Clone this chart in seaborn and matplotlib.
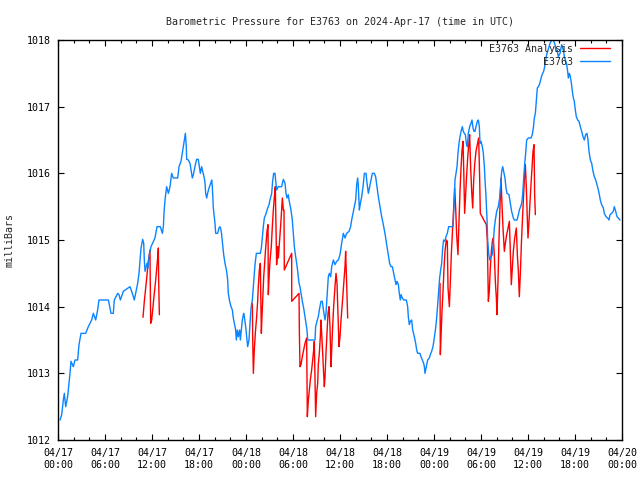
import pandas as pd
import matplotlib
matplotlib.use("Agg")
import matplotlib.pyplot as plt
import matplotlib.dates as mdates
from matplotlib.lines import Line2D
import seaborn as sns

# hours after 2024-04-17 00:00 UTC, pressure in mbar
station_hours = [
    0.26, 0.47, 0.68, 0.81, 0.98, 1.23, 1.40, 1.53, 1.66, 1.96, 2.17, 2.51, 2.68, 2.94,
    3.53, 3.87, 4.30, 4.51, 4.81, 5.06, 5.23, 6.43, 6.64, 6.77, 7.06, 7.19, 7.62, 7.79,
    7.96, 8.34, 9.19, 9.49, 9.74, 10.0, 10.17, 10.34, 10.47, 10.6, 10.81, 10.94, 11.02,
    11.11, 11.36, 11.49, 11.62, 11.87, 12.38, 12.64, 13.06, 13.32, 13.45, 13.53, 13.66,
    13.87, 14.09, 14.3, 14.51, 14.72, 15.28, 15.45, 15.7, 15.87, 16.0, 16.13, 16.26,
    16.38, 16.43, 16.64, 16.85, 16.98, 17.15, 17.28, 17.4, 17.57, 17.7, 17.91, 18.04,
    18.17, 18.34, 18.47, 18.68, 18.77, 18.85, 18.98, 19.1, 19.28, 19.49, 19.62, 19.7,
    19.83, 20.04, 20.13, 20.38, 20.55, 20.68, 20.81, 20.89, 21.02, 21.15, 21.32, 21.53,
    21.66, 21.74, 21.91, 22.09, 22.26, 22.38, 22.51, 22.68, 22.77, 22.89, 23.02, 23.19,
    23.28, 23.4, 23.53, 23.7, 23.79, 23.96, 24.09, 24.21, 24.38, 24.51, 24.64, 24.81,
    24.94, 25.06, 25.15, 25.32, 25.83, 25.96, 26.09, 26.21, 26.34, 26.51, 26.77, 26.94,
    27.06, 27.28, 27.4, 27.53, 27.7, 27.91, 28.13, 28.55, 28.77, 28.98, 29.11, 29.23,
    29.4, 29.49, 29.74, 29.91, 30.04, 30.17, 30.34, 30.47, 30.6, 30.77, 30.89, 31.02,
    31.19, 31.36, 31.53, 31.66, 31.79, 31.87, 32.81, 32.89, 33.06, 33.23, 33.36, 33.57,
    33.74, 33.91, 34.09, 34.21, 34.38, 34.51, 34.64, 34.81, 34.94, 35.15, 35.36, 35.57,
    35.79, 36.0, 36.21, 36.43, 36.64, 36.85, 37.15, 37.36, 37.49, 37.66, 37.83, 38.0,
    38.13, 38.26, 38.34, 38.47, 38.6, 38.77, 38.94, 39.11, 39.32, 39.45, 39.62, 39.79,
    39.96, 40.13, 40.38, 40.55, 40.72, 40.89, 41.11, 41.32, 41.53, 41.74, 41.96, 42.17,
    42.34, 42.51, 42.68, 42.85, 43.02, 43.15, 43.28, 43.45, 43.57, 43.7, 43.79, 43.96,
    44.13, 44.47, 44.64, 44.72, 44.85, 44.98, 45.15, 45.28, 45.49, 45.66, 45.79, 45.91,
    46.21, 46.34, 46.51, 46.68, 46.77, 46.85, 47.02, 47.19, 47.4, 47.53, 47.7, 47.87,
    48.04, 48.21, 48.34, 48.47, 48.6, 48.72, 48.85, 48.98, 49.11, 49.23, 49.4, 49.53,
    49.7, 49.87, 50.43, 50.55, 50.68, 50.81, 50.94, 51.06, 51.19, 51.32, 51.45, 51.62,
    51.74, 51.87, 52.0, 52.13, 52.26, 52.38, 52.55, 52.72, 52.85, 52.98, 53.11, 53.23,
    53.36, 53.53, 53.66, 53.79, 53.87, 54.0, 54.17, 54.3, 54.43, 54.51, 54.64, 54.77,
    54.85, 54.98, 55.11, 55.28, 55.45, 55.57, 55.7, 55.83, 56.0, 56.21, 56.38, 56.51,
    56.64, 56.77, 56.89, 57.06, 57.19, 57.32, 57.57, 57.74, 57.91, 58.13, 58.26, 58.6,
    58.77, 58.89, 59.06, 59.19, 59.32, 59.45, 59.57, 59.7, 59.83, 60.04, 60.38, 60.55,
    60.68, 60.81, 60.94, 61.06, 61.19, 61.32, 61.45, 61.57, 61.74, 61.87, 62.0, 62.13,
    62.26, 62.38, 62.51, 62.68, 62.81, 63.02, 63.23, 63.45, 63.57, 63.7, 63.87, 64.09,
    64.3, 64.51, 64.64, 64.81, 64.94, 65.06, 65.15, 65.28, 65.4, 65.53, 65.66, 65.79,
    65.91, 66.04, 66.17, 66.34, 66.51, 66.68, 66.85, 67.02, 67.19, 67.36, 67.53, 67.66,
    67.79, 67.96, 68.13, 68.3, 68.47, 68.64, 68.81, 68.98, 69.11, 69.23, 69.4, 69.62,
    69.74, 69.96, 70.17, 70.34, 70.47, 70.68, 70.89, 71.02, 71.19, 71.36, 71.53, 71.74,
]
station_mbar = [
    1012.30, 1012.38, 1012.6, 1012.7, 1012.5, 1012.65, 1012.85, 1013.0, 1013.18, 1013.1,
    1013.2, 1013.2, 1013.43, 1013.6, 1013.6, 1013.7, 1013.8, 1013.9, 1013.8, 1013.95,
    1014.1, 1014.1, 1013.98, 1013.9, 1013.9, 1014.1, 1014.2, 1014.18, 1014.1, 1014.23,
    1014.3, 1014.2, 1014.1, 1014.25, 1014.35, 1014.5, 1014.7, 1014.88, 1015.01, 1014.95,
    1014.7, 1014.53, 1014.65, 1014.58, 1014.75, 1014.9, 1015.03, 1015.2, 1015.2, 1015.1,
    1015.2, 1015.4, 1015.6, 1015.8, 1015.7, 1015.8, 1016.0, 1015.93, 1015.93, 1016.1,
    1016.18, 1016.3, 1016.4, 1016.5, 1016.6, 1016.4, 1016.21, 1016.2, 1016.15, 1016.05,
    1015.93, 1015.98, 1016.05, 1016.15, 1016.21, 1016.21, 1016.1, 1016.0, 1016.1, 1016.03,
    1015.93, 1015.85, 1015.7, 1015.63, 1015.7, 1015.78, 1015.85, 1015.9, 1015.8, 1015.48,
    1015.25, 1015.1, 1015.1, 1015.18, 1015.2, 1015.15, 1015.08, 1014.93, 1014.78, 1014.65,
    1014.53, 1014.4, 1014.2, 1014.08, 1014.0, 1013.95, 1013.83, 1013.75, 1013.65, 1013.5,
    1013.65, 1013.55, 1013.65, 1013.5, 1013.65, 1013.8, 1013.9, 1013.85, 1013.7, 1013.55,
    1013.4, 1013.5, 1013.75, 1013.98, 1014.1, 1014.3, 1014.48, 1014.63, 1014.8, 1014.8,
    1014.88, 1015.05, 1015.2, 1015.33, 1015.38, 1015.48, 1015.53, 1015.6, 1015.7, 1015.88,
    1016.0, 1016.0, 1015.75, 1015.8, 1015.8, 1015.91, 1015.85, 1015.7, 1015.63, 1015.68,
    1015.6, 1015.45, 1015.3, 1015.1, 1014.9, 1014.75, 1014.65, 1014.53, 1014.35, 1014.3,
    1014.2, 1014.08, 1013.98, 1013.85, 1013.75, 1013.65, 1013.5, 1013.5, 1013.7, 1013.78,
    1013.85, 1013.95, 1014.08, 1014.08, 1013.93, 1013.8, 1013.9, 1014.2, 1014.45, 1014.5,
    1014.45, 1014.6, 1014.7, 1014.63, 1014.68, 1014.7, 1014.78, 1014.95, 1015.1, 1015.03,
    1015.1, 1015.13, 1015.2, 1015.3, 1015.4, 1015.5, 1015.6, 1015.83, 1015.93, 1015.8,
    1015.45, 1015.55, 1015.65, 1015.8, 1016.0, 1016.0, 1015.85, 1015.7, 1015.8, 1015.9,
    1016.0, 1016.0, 1015.95, 1015.8, 1015.65, 1015.5, 1015.35, 1015.23, 1015.1, 1014.93,
    1014.78, 1014.65, 1014.6, 1014.6, 1014.5, 1014.4, 1014.33, 1014.38, 1014.33, 1014.2,
    1014.1, 1014.18, 1014.13, 1014.1, 1014.1, 1014.0, 1013.85, 1013.73, 1013.78, 1013.8,
    1013.65, 1013.55, 1013.45, 1013.35, 1013.3, 1013.3, 1013.25, 1013.2, 1013.15, 1013.1,
    1013.0, 1013.1, 1013.2, 1013.23, 1013.28, 1013.33, 1013.4, 1013.53, 1013.68, 1013.83,
    1014.03, 1014.25, 1014.43, 1014.55, 1014.65, 1014.88, 1015.0, 1014.98, 1015.05, 1015.1,
    1015.2, 1015.2, 1015.5, 1015.9, 1016.0, 1016.1, 1016.3, 1016.45, 1016.55, 1016.63,
    1016.7, 1016.63, 1016.6, 1016.58, 1016.45, 1016.4, 1016.6, 1016.7, 1016.75, 1016.8,
    1016.68, 1016.63, 1016.63, 1016.7, 1016.78, 1016.8, 1016.7, 1016.45, 1016.48, 1016.4,
    1016.3, 1016.1, 1015.9, 1015.65, 1015.3, 1015.0, 1014.8, 1014.7, 1014.75, 1014.78,
    1014.95, 1015.18, 1015.3, 1015.43, 1015.5, 1015.63, 1015.83, 1016.03, 1016.1, 1016.03,
    1015.93, 1015.78, 1015.7, 1015.68, 1015.55, 1015.43, 1015.33, 1015.3, 1015.3, 1015.38,
    1015.45, 1015.5, 1015.55, 1015.68, 1015.93, 1016.13, 1016.3, 1016.5, 1016.53, 1016.53,
    1016.58, 1016.68, 1016.83, 1016.9, 1017.08, 1017.28, 1017.3, 1017.33, 1017.38, 1017.46,
    1017.5, 1017.53, 1017.6, 1017.7, 1017.78, 1017.83, 1017.9, 1017.95, 1018.0, 1018.0,
    1017.93, 1017.83, 1017.85, 1017.75, 1017.8, 1017.93, 1017.85, 1017.75, 1017.68, 1017.63,
    1017.53, 1017.43, 1017.5, 1017.45, 1017.36, 1017.23, 1017.13, 1017.08, 1016.95, 1016.85,
    1016.8, 1016.78, 1016.7, 1016.63, 1016.55, 1016.5, 1016.58, 1016.6, 1016.5, 1016.33,
    1016.2, 1016.15, 1016.03, 1015.95, 1015.9, 1015.83, 1015.75, 1015.68, 1015.6, 1015.53,
    1015.48, 1015.4, 1015.35, 1015.33, 1015.3, 1015.38, 1015.4, 1015.43, 1015.5, 1015.43,
    1015.35, 1015.33, 1015.3,
]

# analysis runs, three separate stretches
analysis1_hours = [10.85, 11.02, 11.28, 11.53, 11.74, 11.83, 11.96, 12.21, 12.47, 12.72,
                   12.81, 12.85, 12.94]
analysis1_mbar = [1013.84, 1014.08, 1014.38, 1014.68, 1014.85, 1013.75, 1013.8, 1014.1,
                  1014.4, 1014.73, 1014.88, 1014.4, 1013.88]

analysis2_hours = [
    24.81, 24.85, 24.94, 25.06, 25.19, 25.36, 25.49, 25.57, 25.7, 25.83, 25.87, 25.96,
    26.04, 26.17, 26.26, 26.38, 26.51, 26.68, 26.81, 26.85, 26.98, 27.11, 27.23, 27.36,
    27.49, 27.62, 27.74, 27.91, 28.04, 28.13, 28.34, 28.47, 28.64, 28.77, 28.85, 28.89,
    29.83, 29.84, 30.77, 30.81, 30.89, 31.02, 31.19, 31.36, 31.53, 31.74, 31.83, 31.96,
    32.09, 32.21, 32.38, 32.51, 32.64, 32.72, 32.81, 32.89, 33.02, 33.15, 33.23, 33.36,
    33.49, 33.57, 33.66, 33.79, 33.91, 34.0, 34.09, 34.21, 34.34, 34.47, 34.6, 34.72,
    34.85, 34.94, 35.06, 35.19, 35.36, 35.49, 35.62, 35.74, 35.87, 36.0, 36.13, 36.26,
    36.38, 36.51, 36.64, 36.72, 36.85, 36.98,
]
analysis2_mbar = [
    1014.05, 1013.55, 1013.0, 1013.35, 1013.6, 1013.85, 1014.08, 1014.3, 1014.55, 1014.65,
    1014.3, 1013.6, 1013.85, 1014.2, 1014.45, 1014.65, 1014.88, 1015.13, 1015.23, 1014.18,
    1014.53, 1014.75, 1014.9, 1015.2, 1015.45, 1015.65, 1015.8, 1014.63, 1014.9, 1014.73,
    1015.08, 1015.3, 1015.63, 1015.45, 1015.45, 1014.55, 1014.8, 1014.08, 1014.2, 1013.65,
    1013.1, 1013.13, 1013.25, 1013.35, 1013.45, 1013.53, 1012.35, 1012.6, 1012.75, 1012.9,
    1013.05, 1013.2, 1013.35, 1013.48, 1012.9, 1012.35, 1012.7, 1012.85, 1013.13, 1013.3,
    1013.55, 1013.8, 1013.6, 1013.3, 1013.0, 1012.8, 1012.95, 1013.3, 1013.6, 1013.9,
    1014.0, 1013.7, 1013.1, 1013.35, 1013.7, 1014.0, 1014.3, 1014.5, 1014.35, 1013.9,
    1013.4, 1013.55, 1013.8, 1014.0, 1014.18, 1014.4, 1014.6, 1014.83, 1014.35, 1013.83,
]

analysis3_hours = [
    48.77, 48.81, 48.94, 49.02, 49.15, 49.28, 49.4, 49.57, 49.7, 49.79, 49.96, 50.09,
    50.21, 50.38, 50.51, 50.64, 50.77, 50.89, 51.06, 51.19, 51.32, 51.45, 51.57, 51.7,
    51.79, 51.91, 52.04, 52.17, 52.3, 52.43, 52.55, 52.68, 52.81, 52.94, 53.06, 53.19,
    53.36, 53.53, 53.7, 53.83, 53.91, 54.68, 54.81, 54.94, 55.06, 55.19, 55.32, 55.45,
    55.57, 55.7, 55.83, 55.96, 56.04, 56.17, 56.3, 56.43, 56.55, 56.68, 56.81, 56.98,
    57.11, 57.28, 57.45, 57.62, 57.74, 57.87, 58.0, 58.13, 58.3, 58.51, 58.64, 58.77,
    58.89, 59.02, 59.15, 59.28, 59.4, 59.57, 59.66, 59.79, 59.91, 60.0, 60.13, 60.26,
    60.38, 60.51, 60.64, 60.77, 60.85, 60.94,
]
analysis3_mbar = [
    1014.35, 1013.28, 1013.68, 1013.93, 1014.23, 1014.58, 1014.83, 1015.0, 1014.98, 1014.28,
    1014.0, 1014.38, 1014.78, 1015.18, 1015.48, 1015.78, 1015.48, 1015.08, 1014.78, 1015.28,
    1015.73, 1016.08, 1016.33, 1016.48, 1016.08, 1015.4, 1015.68, 1015.98, 1016.23, 1016.43,
    1016.58, 1016.08, 1015.73, 1015.48, 1015.88, 1016.13, 1016.33, 1016.43, 1016.53, 1015.93,
    1015.4, 1015.23, 1014.98, 1014.08, 1014.23, 1014.58, 1014.83, 1014.98, 1015.03, 1014.78,
    1014.38, 1014.13, 1013.88, 1014.38, 1015.03, 1015.53, 1015.93, 1015.53, 1015.18, 1014.83,
    1014.95, 1015.08, 1015.18, 1015.28, 1014.83, 1014.33, 1014.58, 1014.83, 1015.03, 1015.18,
    1014.78, 1014.53, 1014.15, 1014.48, 1014.93, 1015.28, 1015.58, 1015.98, 1016.13, 1015.78,
    1015.33, 1015.03, 1015.28, 1015.58, 1015.83, 1016.08, 1016.33, 1016.43, 1015.68, 1015.38,
]

start = pd.Timestamp("2024-04-17 00:00")
end = pd.Timestamp("2024-04-20 00:00")
y_ticks = [1012, 1013, 1014, 1015, 1016, 1017, 1018]

station_df = pd.DataFrame({
    "time": start + pd.to_timedelta(station_hours, unit="h"),
    "mbar": station_mbar,
})
parts = []
for n, (hh, vv) in enumerate([(analysis1_hours, analysis1_mbar),
                              (analysis2_hours, analysis2_mbar),
                              (analysis3_hours, analysis3_mbar)]):
    parts.append(pd.DataFrame({
        "time": start + pd.to_timedelta(hh, unit="h"),
        "mbar": vv,
        "run": n,
    }))
analysis_df = pd.concat(parts, ignore_index=True)

sns.set_theme(style="ticks")
plt.rcParams["font.family"] = ["DejaVu Sans Mono"]
plt.rcParams["font.size"] = 7.2

red = "#ff0000"
blue = "#0a84ff"

fig = plt.figure(figsize=(6.4, 4.8), dpi=100)
ax = fig.add_axes([58 / 640, 40 / 480, 564 / 640, 400 / 480])

sns.lineplot(data=analysis_df, x="time", y="mbar", units="run", estimator=None,
             sort=False, color=red, linewidth=1.0, ax=ax, legend=False)
sns.lineplot(data=station_df, x="time", y="mbar", estimator=None, sort=False,
             color=blue, linewidth=1.0, ax=ax, legend=False)

ax.set_xlim(start, end)
ax.set_ylim(1012, 1018)
ax.set_yticks(y_ticks)
ax.set_yticklabels([str(t) for t in y_ticks])

ax.xaxis.set_major_locator(mdates.HourLocator(byhour=[0, 6, 12, 18]))
ax.xaxis.set_minor_locator(mdates.HourLocator(byhour=range(0, 24, 2)))
ax.xaxis.set_major_formatter(mdates.DateFormatter("%m/%d\n%H:%M"))

ax.tick_params(axis="both", which="both", direction="in", top=True, right=True,
               colors="black", labelsize=7.2, width=0.8)
ax.tick_params(axis="both", which="major", length=4)
ax.tick_params(axis="x", which="minor", length=2)
ax.tick_params(axis="x", which="major", pad=6)
ax.tick_params(axis="y", which="major", pad=5)
for s in ax.spines.values():
    s.set_visible(True)
    s.set_linewidth(1.0)
    s.set_color("black")

ax.set_xlabel("")
ax.set_ylabel("milliBars", fontsize=7.2)
ax.yaxis.set_label_coords(-0.078, 0.5)
ax.set_title("Barometric Pressure for E3763 on 2024-Apr-17 (time in UTC)",
             fontsize=7.2, pad=11)

handles = [Line2D([], [], color=red, linewidth=1.0),
           Line2D([], [], color=blue, linewidth=1.0)]
ax.legend(handles, ["E3763 Analysis", "E3763"], loc="upper right",
          bbox_to_anchor=(0.979, 0.99), borderaxespad=0, borderpad=0,
          frameon=False, markerfirst=False, handlelength=3.0,
          handletextpad=0.7, labelspacing=0.3, fontsize=7.2)

fig.savefig("out.png", dpi=100, facecolor="white")
